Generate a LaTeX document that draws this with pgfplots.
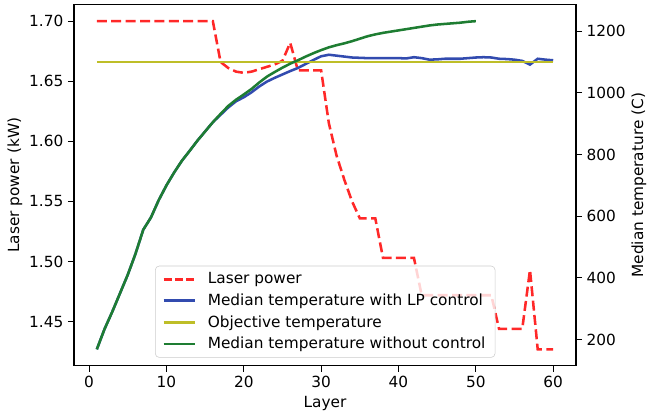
\documentclass[border=0pt]{standalone}
\usepackage{fontspec}
\setmainfont{DejaVu Sans}
\usepackage{pgfplots}
\pgfplotsset{compat=1.18}

\definecolor{lpred}{RGB}{255,40,40}
\definecolor{tblue}{RGB}{50,75,175}
\definecolor{tolive}{RGB}{190,190,40}
\definecolor{tgreen}{RGB}{30,125,50}
\definecolor{legframe}{RGB}{204,204,204}

\newcommand{\chartfont}{\fontsize{11.5}{13.8}\selectfont}

\pgfplotsset{
  twin/.style={
    scale only axis,
    width=376.5pt, height=270.75pt,
    at={(0,0)}, anchor=south west,
    xmin=-1.95, xmax=62.95,
    xtick={0,10,...,60},
    tick align=outside,
    major tick length=4.5pt,
    tick style={line width=0.8pt, black},
    axis line style={line width=0.8pt},
    tick label style={font=\chartfont},
    label style={font=\chartfont},
    /pgf/number format/assume math mode=true,
    /pgf/number format/1000 sep={},
  }
}

\begin{document}
\begin{tikzpicture}
  \path[use as bounding box] (-55.5pt,-37.5pt) rectangle (430.5pt,274.3pt);

  % left axis: laser power
  \begin{axis}[
    twin,
    xtick pos=left,
    ytick pos=left,
    ymin=1.41335, ymax=1.71365,
    ytick={1.45,1.5,1.55,1.6,1.65,1.7},
    yticklabel style={/pgf/number format/.cd, fixed, fixed zerofill, precision=2},
    xlabel={Layer},
    ylabel={Laser power (kW)},
    xlabel style={at={(axis description cs:0.5,-0.1053)}, anchor=center},
    ylabel style={at={(axis description cs:-0.1175,0.5)}, anchor=center},
  ]
    \addplot[lpred, line width=1.9pt, dash pattern=on 7.5pt off 3.3pt] coordinates {
      (1,1.70) (2,1.70) (3,1.70) (4,1.70) (5,1.70) (6,1.70) (7,1.70) (8,1.70)
      (9,1.70) (10,1.70) (11,1.70) (12,1.70) (13,1.70) (14,1.70) (15,1.70) (16,1.70)
      (17,1.666) (18,1.661) (19,1.658) (20,1.657) (21,1.658) (22,1.660) (23,1.662)
      (24,1.664) (25,1.667) (26,1.682) (27,1.659) (28,1.659) (29,1.659) (30,1.659)
      (31,1.615) (32,1.588) (33,1.568) (34,1.550) (35,1.536) (36,1.536) (37,1.536)
      (38,1.503) (39,1.503) (40,1.503) (41,1.503) (42,1.503)
      (43,1.472) (44,1.472) (45,1.472) (46,1.472) (47,1.472) (48,1.472) (49,1.472)
      (50,1.472) (51,1.472) (52,1.472)
      (53,1.444) (54,1.444) (55,1.444) (56,1.444) (57,1.493)
      (58,1.427) (59,1.427) (60,1.427)
    };
  \end{axis}

  % right axis: temperatures
  \begin{axis}[
    twin,
    axis x line=none,
    axis y line*=right,
    ytick pos=right,
    ymin=114.75, ymax=1286.25,
    ytick={200,400,...,1200},
    ylabel={Median temperature (C)},
    ylabel style={at={(axis description cs:1.1255,0.5)}, anchor=center},
    legend cell align=left,
    legend image code/.code={\draw[#1] (0pt,0pt) -- (23.25pt,0pt);},
    legend style={
      at={(axis description cs:0.1614,0.0222)}, anchor=south west,
      font=\chartfont,
      draw=legframe, fill=white, fill opacity=0.8, draw opacity=1, text opacity=1,
      rounded corners=3pt,
      inner xsep=5.25pt, inner ysep=3pt,
      row sep=2pt,
      /tikz/every odd column/.append style={column sep=7pt},
    },
  ]
    \addlegendimage{lpred, line width=1.9pt, dash pattern=on 6pt off 2.6pt}

    \addplot[tblue, line width=1.9pt] coordinates {
      (1,168) (2,234) (3,290) (4,350) (5,410) (6,478) (7,556) (8,596) (9,652)
      (10,700) (11,742) (12,780) (13,812) (14,845) (15,875) (16,905)
      (17,929) (18,953) (19,973) (20,986) (21,1002) (22,1021) (23,1037) (24,1049)
      (25,1060) (26,1071) (27,1081) (28,1094) (29,1107) (30,1119) (31,1124)
      (32,1121) (33,1118) (34,1115) (35,1114) (36,1113) (37,1113) (38,1113)
      (39,1113) (40,1113) (41,1112) (42,1116) (43,1113) (44,1108) (45,1109)
      (46,1111) (47,1111) (48,1111) (49,1113) (50,1115) (51,1116) (52,1115)
      (53,1111) (54,1110) (55,1108) (56,1104) (57,1092) (58,1111) (59,1108) (60,1106)
    };
    \addplot[tolive, line width=1.9pt] coordinates {(1,1100) (60,1100)};
    \addplot[tgreen, line width=1.9pt] coordinates {
      (1,168) (2,234) (3,290) (4,350) (5,410) (6,478) (7,556) (8,596) (9,652)
      (10,700) (11,742) (12,780) (13,812) (14,845) (15,875) (16,905)
      (17,932) (18,958) (19,978) (20,995) (21,1013) (22,1034) (23,1053) (24,1068)
      (25,1082) (26,1095) (27,1106) (28,1118) (29,1129) (30,1139) (31,1148)
      (32,1155) (33,1161) (34,1168) (35,1176) (36,1184) (37,1190) (38,1195)
      (39,1199) (40,1203) (41,1207) (42,1211) (43,1215) (44,1219) (45,1222)
      (46,1224) (47,1226) (48,1228) (49,1231) (50,1233)
    };
    \legend{Laser power, Median temperature with LP control, Objective temperature, Median temperature without control}
  \end{axis}
\end{tikzpicture}
\end{document}
